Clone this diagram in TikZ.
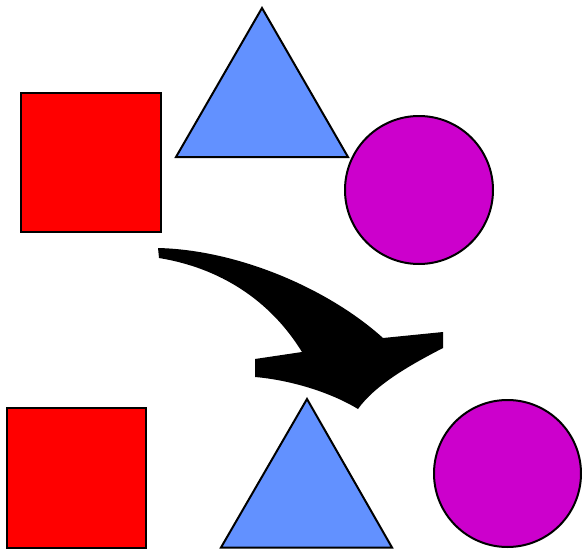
\documentclass[tikz,border=0pt]{standalone}
\definecolor{sqred}{RGB}{255,0,0}
\definecolor{triblue}{RGB}{98,145,255}
\definecolor{cirmag}{RGB}{204,0,204}
\begin{document}
\begin{tikzpicture}[x=1pt,y=-1pt,
  shp/.style={draw=black,line width=2pt,line join=miter},
  sq/.style={shp,fill=sqred},
  tri/.style={shp,fill=triblue},
  cir/.style={shp,fill=cirmag}]
\useasboundingbox (0,0) rectangle (582,549);
% top row
\draw[sq] (21,93) rectangle (161,232);
\draw[tri] (262,8) -- (348,157) -- (176,157) -- cycle;
\draw[cir] (419,190) circle[radius=74];
% bottom row
\draw[sq] (7,408) rectangle (146,547.5);
\draw[tri] (307,399) -- (392,547.5) -- (221,547.5) -- cycle;
\draw[cir] (507.5,473.5) circle[radius=73.5];
% arrow
\fill[black] (158,248) .. controls (240,250) and (330,290) .. (383,338)
  -- (443,332) -- (443,348)
  .. controls (410,365) and (375,385) .. (358,409)
  .. controls (330,392) and (290,380) .. (255,377)
  -- (255,359) -- (302,352)
  .. controls (270,300) and (220,268) .. (159,258) -- cycle;
\end{tikzpicture}
\end{document}
